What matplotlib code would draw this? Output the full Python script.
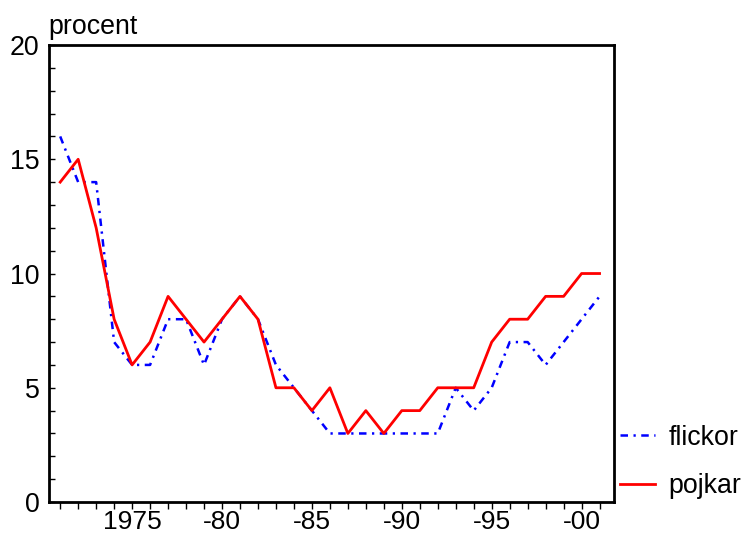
import matplotlib
matplotlib.use("Agg")
import matplotlib.pyplot as plt

plt.rcParams['font.family'] = ['Liberation Sans', 'DejaVu Sans']

# andel i procent, per år
years = list(range(1971, 2002))
flickor = [16, 14, 14, 7, 6, 6, 8, 8, 6, 8,
           9, 8, 6, 5, 4, 3, 3, 3, 3, 3,
           3, 3, 5, 4, 5, 7, 7, 6, 7, 8, 9]
pojkar = [14, 15, 12, 8, 6, 7, 9, 8, 7, 8,
          9, 8, 5, 5, 4, 5, 3, 4, 3, 4,
          4, 5, 5, 5, 7, 8, 8, 9, 9, 10, 10]

xtick_pos = [1975, 1980, 1985, 1990, 1995, 2000]
xtick_labels = ['1975', '-80', '-85', '-90', '-95', '-00']
ytick_pos = [0, 5, 10, 15, 20]

fig = plt.figure(figsize=(7.44, 5.36), dpi=100)
ax = fig.add_axes([0.0652, 0.0634, 0.760, 0.8526])

ax.plot(years, flickor, color='#0000ff', linewidth=1.8,
        dashes=(3.0, 2.2, 0.9, 2.2), label='flickor')
ax.plot(years, pojkar, color='#ff0000', linewidth=2.0, label='pojkar')

ax.set_xlim(1970.35, 2001.8)
ax.set_ylim(0, 20)

ax.set_xticks(xtick_pos)
ax.set_xticklabels(xtick_labels)
ax.set_xticks(years, minor=True)
ax.set_yticks(ytick_pos)
ax.set_yticks(range(0, 21), minor=True)

ax.tick_params(axis='x', which='both', direction='out', length=5.0, width=1.0,
               labelsize=19, pad=0.5)
ax.tick_params(axis='y', which='both', direction='in', length=4.3, width=1.0,
               labelsize=19.3, pad=6.5)

for sp in ax.spines.values():
    sp.set_linewidth(2.0)

fig.text(48 / 744, (536 - 34) / 536, 'procent', fontsize=19.3, va='baseline', ha='left')

ax.legend(loc='center left', bbox_to_anchor=(620 / 744, (536 - 462) / 536),
          bbox_transform=fig.transFigure, frameon=False, borderpad=0,
          borderaxespad=0, fontsize=19.3, handlelength=1.3, handletextpad=0.5,
          labelspacing=0.85)

fig.savefig('out.png', dpi=100)
